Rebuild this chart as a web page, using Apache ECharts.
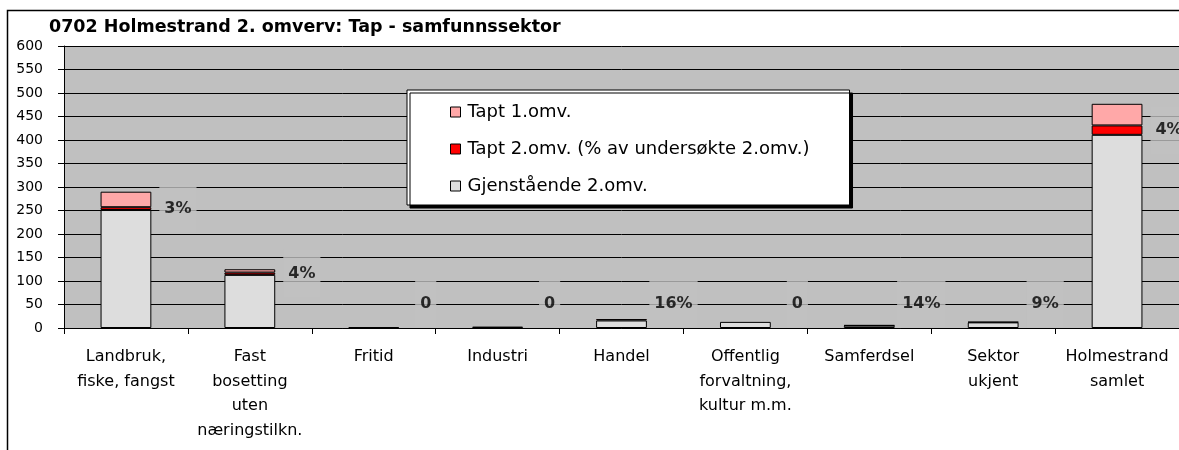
<!DOCTYPE html>
<html>
<head>
<meta charset="utf-8">
<script src="https://cdn.jsdelivr.net/npm/echarts@6/dist/echarts.min.js"></script>
<style>
html,body{margin:0;padding:0;background:#fff;}
#chart{width:1179px;height:450px;}
</style>
</head>
<body>
<div id="chart"></div>
<script>
const categories = [
  "Landbruk,\nfiske, fangst",
  "Fast\nbosetting\nuten\nnæringstilkn.",
  "Fritid",
  "Industri",
  "Handel",
  "Offentlig\nforvaltning,\nkultur m.m.",
  "Samferdsel",
  "Sektor\nukjent",
  "Holmestrand\nsamlet"
];
const gjenstaende = [251, 113, 2, 3, 16, 13, 5, 12, 411];
const tapt2 = [6, 5, 0, 0, 3, 0, 1, 1, 20];
const tapt1 = [33, 7, 0, 0, 0, 0, 0, 0, 46];
const pctLabels = ["3%", "4%", "0", "0", "16%", "0", "14%", "9%", "4%"];
const yTicks = [0, 50, 100, 150, 200, 250, 300, 350, 400, 450, 500, 550, 600];

const FONT = "DejaVu Sans, sans-serif";
const nz = a => a.map(v => v === 0 ? '-' : v);
const barStyle = c => ({ color: c, borderColor: '#000', borderWidth: 1 });

const chart = echarts.init(document.getElementById('chart'), null, { renderer: 'canvas' });
chart.setOption({
  animation: false,
  backgroundColor: '#fff',
  textStyle: { fontFamily: FONT, color: '#000' },
  graphic: [{
    type: 'rect', z: -10, silent: true,
    shape: { x: 7.5, y: 10.5, width: 1190, height: 460 },
    style: { fill: 'none', stroke: '#000', lineWidth: 1.5 }
  }],
  title: {
    text: '0702 Holmestrand 2. omverv: Tap - samfunnssektor',
    left: 49, top: 18, padding: 0,
    textStyle: { fontFamily: FONT, fontSize: 17.5, fontWeight: 'bold', color: '#000' }
  },
  legend: {
    data: ['Tapt 1.omv.', 'Tapt 2.omv. (% av undersøkte 2.omv.)', 'Gjenstående 2.omv.'],
    orient: 'vertical',
    left: 407, top: 90,
    padding: [13, 40, 10, 43],
    itemGap: 19,
    itemWidth: 10, itemHeight: 10,
    icon: 'rect',
    backgroundColor: '#fff',
    borderColor: '#000', borderWidth: 1,
    shadowColor: '#000', shadowBlur: 0, shadowOffsetX: 3, shadowOffsetY: 3,
    itemStyle: { borderColor: '#000', borderWidth: 1 },
    textStyle: { fontFamily: FONT, fontSize: 18, color: '#000', padding: [0, 0, 0, 2] }
  },
  grid: { left: 64, right: -1, top: 46, bottom: 122, show: true, backgroundColor: '#c0c0c0', borderWidth: 0 },
  xAxis: {
    type: 'category', data: categories,
    axisLine: { lineStyle: { color: '#000', width: 1 } },
    axisTick: { show: true, length: 6, lineStyle: { color: '#000' } },
    axisLabel: { interval: 0, margin: 17, fontFamily: FONT, fontSize: 16, lineHeight: 24.5, color: '#000', align: 'center' }
  },
  yAxis: {
    type: 'value', min: 0, max: 600, interval: 50,
    axisLine: { show: true, lineStyle: { color: '#000', width: 1 } },
    axisTick: { show: true, length: 6, lineStyle: { color: '#000' } },
    splitLine: { show: true, lineStyle: { color: '#000', width: 1 } },
    axisLabel: {
      margin: 21, fontFamily: FONT, fontSize: 14, color: '#000',
      formatter: v => yTicks.indexOf(v) >= 0 ? String(v) : ''
    }
  },
  series: [
    { name: 'Gjenstående 2.omv.', type: 'bar', stack: 's', barWidth: '41%', data: nz(gjenstaende), itemStyle: barStyle('#dddddd') },
    { name: 'Tapt 2.omv. (% av undersøkte 2.omv.)', type: 'bar', stack: 's', barWidth: '41%', data: nz(tapt2), itemStyle: barStyle('#ff0000') },
    { name: 'Tapt 1.omv.', type: 'bar', stack: 's', barWidth: '41%', data: nz(tapt1), itemStyle: barStyle('#ffa8a8') },
    {
      name: 'pct', type: 'scatter', symbolSize: 0, z: 5,
      data: categories.map((c, i) => [i, Math.max(gjenstaende[i] + tapt2[i] / 2, 52)]),
      label: {
        show: true, position: 'inside', offset: [52, 0],
        formatter: p => pctLabels[p.dataIndex],
        fontFamily: FONT, fontSize: 16, fontWeight: 'bold', color: '#000',
        backgroundColor: '#c0c0c0', padding: [16, 5, 16, 5]
      },
      tooltip: { show: false }
    }
  ]
});
</script>
</body>
</html>
